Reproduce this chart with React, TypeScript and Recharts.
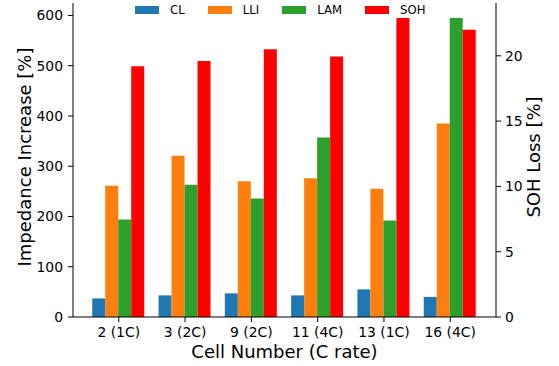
import React from "react";
import {
    BarChart,
    Bar,
    XAxis,
    YAxis,
    Legend,
    Label,
} from "recharts";

// cell labels and degradation modes per cell
const CELLS = ["2 (1C)", "3 (2C)", "9 (2C)", "11 (4C)", "13 (1C)", "16 (4C)"];
const CL = [37, 43, 47, 43, 55, 40];
const LLI = [261, 321, 270, 276, 255, 385];
const LAM = [194, 263, 236, 357, 192, 595];
const SOH = [19.2, 19.6, 20.5, 19.95, 22.9, 22.0];

const LEFT_TICKS = [0, 100, 200, 300, 400, 500, 600];
const RIGHT_TICKS = [0, 5, 10, 15, 20];

const SERIES = [
    { key: "CL", color: "#1f77b4", axis: "left" },
    { key: "LLI", color: "#ff7f0e", axis: "left" },
    { key: "LAM", color: "#2ca02c", axis: "left" },
    { key: "SOH", color: "#ff0000", axis: "right" },
];

const data = CELLS.map((cell, i) => ({
    cell,
    CL: CL[i],
    LLI: LLI[i],
    LAM: LAM[i],
    SOH: SOH[i],
}));

const FONT = "'DejaVu Sans', sans-serif";
const tickStyle = { fill: "#000", fontSize: 13.9, fontFamily: FONT };

const LegendRow = () => (
    <div
        style={{
            display: "flex",
            alignItems: "flex-start",
            fontFamily: FONT,
            fontSize: 11.7,
            color: "#000",
        }}
    >
        {SERIES.map((s) => (
            <div
                key={s.key}
                style={{ display: "flex", alignItems: "flex-start", marginRight: 23 }}
            >
                <div
                    style={{
                        width: 24,
                        height: 8,
                        background: s.color,
                        marginTop: 2.5,
                        marginRight: 11,
                    }}
                />
                <span style={{ lineHeight: "14px" }}>{s.key}</span>
            </div>
        ))}
    </div>
);

const axisTitle =
    (text: string, dx: number, dy: number, rotate: boolean) => (props: any) => {
        const vb = props.viewBox ?? { x: 0, y: 0, width: 0, height: 0 };
        const x = rotate ? vb.x + dx : vb.x + vb.width / 2 + dx;
        const y = rotate ? vb.y + vb.height / 2 + dy : vb.y + dy;
        return (
            <text
                x={x}
                y={y}
                textAnchor="middle"
                fontFamily={FONT}
                fontSize={18}
                fill="#000"
                transform={rotate ? `rotate(-90 ${x} ${y})` : undefined}
            >
                {text}
            </text>
        );
    };

export default function App() {
    return (
        <div style={{ position: "absolute", left: 0, top: 0, background: "#fff" }}>
            <BarChart
                width={559}
                height={366}
                data={data}
                margin={{ top: 3, right: 0, bottom: 0, left: 0 }}
                barCategoryGap="10%"
                barGap={0}
            >
                <XAxis
                    dataKey="cell"
                    height={49}
                    padding={{ left: 12.6, right: 12.6 }}
                    stroke="#000"
                    tick={tickStyle}
                    tickSize={5}
                    tickMargin={5}
                >
                    <Label content={axisTitle("Cell Number (C rate)", 0, 40.5, false)} />
                </XAxis>
                <XAxis
                    xAxisId="top"
                    dataKey="cell"
                    orientation="top"
                    height={0}
                    stroke="#000"
                    tick={false}
                    tickLine={false}
                />
                <YAxis
                    yAxisId="left"
                    width={73}
                    domain={[0, (max: number) => max * 1.05]}
                    ticks={LEFT_TICKS}
                    stroke="#000"
                    tick={tickStyle}
                    tickSize={5}
                    tickMargin={5}
                >
                    <Label content={axisTitle("Impedance Increase [%]", 30.5, -3, true)} />
                </YAxis>
                <YAxis
                    yAxisId="right"
                    orientation="right"
                    width={63}
                    domain={[0, (max: number) => max * 1.05]}
                    ticks={RIGHT_TICKS}
                    stroke="#000"
                    tick={tickStyle}
                    tickSize={5}
                    tickMargin={4}
                >
                    <Label content={axisTitle("SOH Loss [%]", 43.5, -3, true)} />
                </YAxis>
                <Legend
                    layout="horizontal"
                    verticalAlign="middle"
                    content={() => <LegendRow />}
                    wrapperStyle={{ top: 3, left: 135, width: "auto" }}
                />
                {SERIES.map((s) => (
                    <Bar
                        key={s.key}
                        dataKey={s.key}
                        yAxisId={s.axis}
                        fill={s.color}
                        isAnimationActive={false}
                    />
                ))}
            </BarChart>
        </div>
    );
}
